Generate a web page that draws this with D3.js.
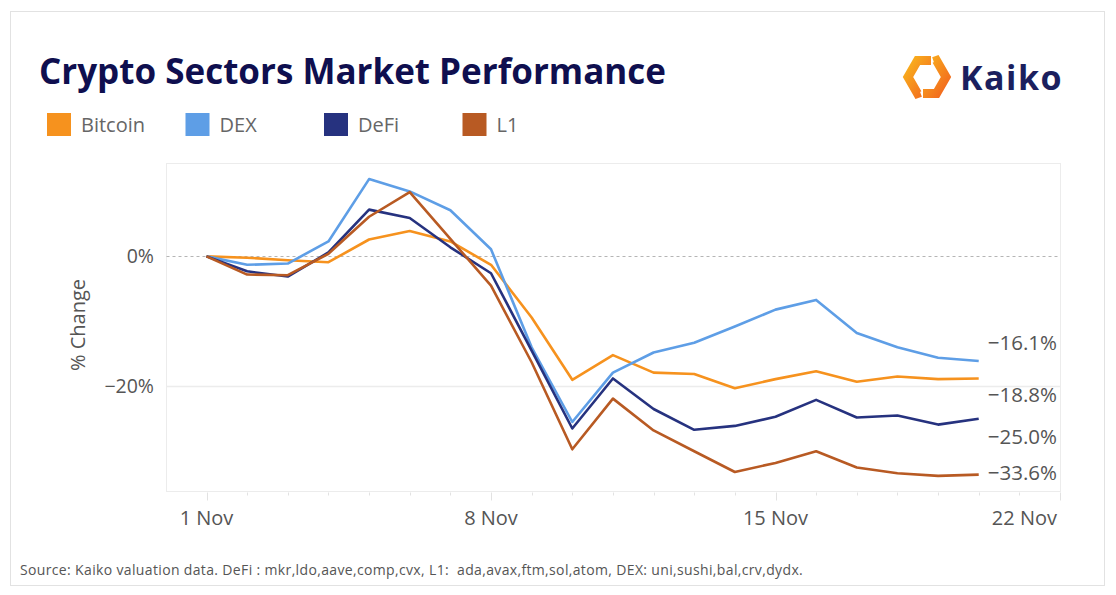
<!DOCTYPE html>
<html>
<head>
<meta charset="utf-8">
<script src="https://cdn.jsdelivr.net/npm/d3@7"></script>
<style>
  html, body { margin: 0; padding: 0; background: #ffffff; }
  svg { display: block; }
</style>
</head>
<body>
<svg id="chart" width="1116" height="595"></svg>
<script>
// ---- data ----
const days = ["2022-11-01","2022-11-02","2022-11-03","2022-11-04","2022-11-05","2022-11-06","2022-11-07","2022-11-08","2022-11-09","2022-11-10","2022-11-11","2022-11-12","2022-11-13","2022-11-14","2022-11-15","2022-11-16","2022-11-17","2022-11-18","2022-11-19","2022-11-20"];
const seriesNames = ["Bitcoin", "DEX", "DeFi", "L1"];
const bitcoin = [0, -0.2, -0.6, -0.9, 2.6, 3.9, 2.3, -1.3, -9.4, -19.0, -15.2, -17.9, -18.1, -20.3, -18.9, -17.7, -19.3, -18.5, -18.9, -18.8];
const dex     = [0, -1.3, -1.1, 2.3, 11.9, 10.0, 7.1, 1.1, -14.0, -25.5, -17.9, -14.8, -13.3, -10.8, -8.2, -6.7, -11.8, -14.0, -15.6, -16.1];
const defi    = [0, -2.3, -3.1, 0.6, 7.2, 5.9, 1.4, -2.6, -14.5, -26.5, -18.8, -23.5, -26.7, -26.1, -24.7, -22.1, -24.8, -24.5, -25.9, -25.0];
const l1      = [0, -2.8, -2.9, 0.4, 6.1, 9.9, 2.7, -4.5, -16.3, -29.7, -21.9, -26.8, -30.0, -33.2, -31.8, -30.0, -32.5, -33.4, -33.8, -33.6];
const endLabels = ["-16.1%", "-18.8%", "-25.0%", "-33.6%"];
const endLabelSeries = ["DEX", "Bitcoin", "DeFi", "L1"];
const xTickLabels = ["1 Nov", "8 Nov", "15 Nov", "22 Nov"];
const xTickDates = ["2022-11-01", "2022-11-08", "2022-11-15", "2022-11-22"];
const yTicks = [0, -20];

// ---- styles ----
const colors = { Bitcoin: "#F6921E", DEX: "#5E9EE6", DeFi: "#26327F", L1: "#B85A23" };
const labelNudge = [-18.5, 16.5, 18.5, -1.5];

const parse = d3.timeParse("%Y-%m-%d");
const dates = days.map(parse);
const valuesByName = { Bitcoin: bitcoin, DEX: dex, DeFi: defi, L1: l1 };

const svg = d3.select("#chart");
const font = "'Open Sans', Lato, sans-serif";

// outer frame
svg.append("rect").attr("x", 10.5).attr("y", 11.5).attr("width", 1094).attr("height", 574)
  .attr("fill", "#fff").attr("stroke", "#e2e2e2").attr("stroke-width", 1);

// title
svg.append("text").attr("x", 39).attr("y", 84)
  .attr("font-family", font).attr("font-weight", 700).attr("font-size", 35)
  .attr("fill", "#0f0f4f").text("Crypto Sectors Market Performance");

// logo
const logo = svg.append("g").attr("transform", "translate(927,77)");
const grad = svg.append("defs").append("linearGradient").attr("id", "lg")
  .attr("x1", "0").attr("y1", "0").attr("x2", "1").attr("y2", "1");
grad.append("stop").attr("offset", "0%").attr("stop-color", "#F9B21C");
grad.append("stop").attr("offset", "100%").attr("stop-color", "#F2661F");
const R = 19;
const hx = a => [R * Math.cos(a * Math.PI / 180), R * Math.sin(a * Math.PI / 180)];
const p1 = [[4, -R * 0.866], hx(240), hx(180), hx(120), [-R * 0.35, R * 0.866 - 1]];
const p2 = [[-4, R * 0.866], hx(60), hx(0), hx(300), [R * 0.35, -R * 0.866 + 1]];
[p1, p2].forEach(p => {
  logo.append("path").attr("d", d3.line()(p)).attr("fill", "none")
    .attr("stroke", "url(#lg)").attr("stroke-width", 9).attr("stroke-linejoin", "miter");
});
svg.append("text").attr("x", 960).attr("y", 90)
  .attr("font-family", "'Open Sans', Lato, sans-serif").attr("font-weight", 700).attr("font-size", 34)
  .attr("letter-spacing", 1.5)
  .attr("fill", "#1b1f5e").text("Kaiko");

// legend
const legend = svg.append("g");
seriesNames.forEach((n, i) => {
  const g = legend.append("g").attr("transform", `translate(${47 + i * 138.5},113)`);
  g.append("rect").attr("width", 24).attr("height", 23).attr("fill", colors[n]);
  g.append("text").attr("x", 34).attr("y", 19).attr("font-family", font)
    .attr("font-size", 20).attr("fill", "#666").text(n);
});

// plot area
const pLeft = 166.5, pRight = 1060.5, pTop = 163.5, pBottom = 491.5;
const x = d3.scaleTime().domain([parse("2022-11-01"), parse("2022-11-22")]).range([206.5, 1060]);
const y = d3.scaleLinear().domain([-36.2, 14.3]).range([pBottom, pTop]);

svg.append("rect").attr("x", pLeft).attr("y", pTop).attr("width", pRight - pLeft).attr("height", pBottom - pTop)
  .attr("fill", "none").attr("stroke", "#ececec").attr("stroke-width", 1);

// gridlines
yTicks.forEach(t => {
  const yy = Math.round(y(t)) + 0.5;
  svg.append("line").attr("x1", pLeft).attr("x2", pRight).attr("y1", yy).attr("y2", yy)
    .attr("stroke", t === 0 ? "#b5b5b5" : "#ececec")
    .attr("stroke-width", t === 0 ? 1.2 : 1.5)
    .attr("stroke-dasharray", t === 0 ? "3,3" : null);
  svg.append("text").attr("x", 154).attr("y", yy).attr("dy", "0.35em")
    .attr("text-anchor", "end").attr("font-family", font).attr("font-size", 19.5)
    .attr("fill", "#555").text(t === 0 ? "0%" : "\u2212" + Math.abs(t) + "%");
});

// y title
svg.append("text").attr("transform", `translate(85,325) rotate(-90)`)
  .attr("text-anchor", "middle").attr("font-family", font).attr("font-size", 20)
  .attr("fill", "#555").text("% Change");

// x axis ticks
const allDays = d3.timeDay.range(parse("2022-11-01"), d3.timeDay.offset(parse("2022-11-22"), 1));
const majorSet = new Set(xTickDates);
allDays.forEach(d => {
  const key = d3.timeFormat("%Y-%m-%d")(d);
  const xx = Math.round(x(d)) + 0.5;
  svg.append("line").attr("x1", xx).attr("x2", xx).attr("y1", pBottom + 1)
    .attr("y2", majorSet.has(key) ? pBottom + 9 : pBottom + 4)
    .attr("stroke", "#e2e2e2").attr("stroke-width", 1);
});
xTickDates.forEach((ds, i) => {
  const last = i === xTickDates.length - 1;
  svg.append("text").attr("x", last ? x(parse(ds)) - 3 : x(parse(ds)))
    .attr("y", 525).attr("text-anchor", last ? "end" : "middle")
    .attr("font-family", font).attr("font-size", 20).attr("fill", "#555")
    .text(xTickLabels[i]);
});

// lines
const line = d3.line().x((d, i) => x(dates[i])).y(d => y(d));
seriesNames.forEach(n => {
  svg.append("path").datum(valuesByName[n]).attr("d", line)
    .attr("fill", "none").attr("stroke", colors[n]).attr("stroke-width", 2.6)
    .attr("stroke-linejoin", "round");
});

// end labels
endLabels.forEach((lab, i) => {
  const vals = valuesByName[endLabelSeries[i]];
  svg.append("text").attr("x", 1057).attr("y", y(vals[vals.length - 1]) + labelNudge[i])
    .attr("dy", "0.35em").attr("text-anchor", "end")
    .attr("font-family", font).attr("font-size", 20.5).attr("fill", "#555")
    .text(lab.replace("-", "\u2212"));
});

// source
svg.append("text").attr("x", 20).attr("y", 575)
  .attr("font-family", font).attr("font-size", 14).attr("letter-spacing", 0.35).attr("fill", "#555")
  .style("white-space", "pre")
  .text("Source: Kaiko valuation data. DeFi : mkr,ldo,aave,comp,cvx, L1:  ada,avax,ftm,sol,atom, DEX: uni,sushi,bal,crv,dydx.");
</script>
</body>
</html>
